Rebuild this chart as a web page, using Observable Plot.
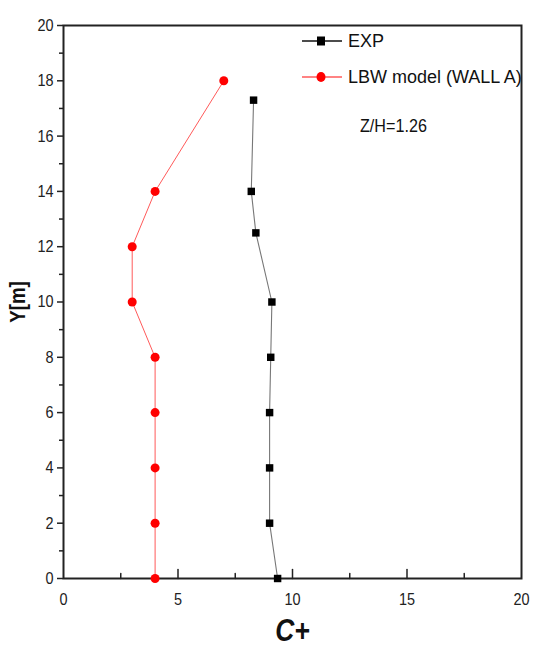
<!DOCTYPE html>
<html>
<head>
<meta charset="utf-8">
<script src="https://cdn.jsdelivr.net/npm/d3@7"></script>
<script src="https://cdn.jsdelivr.net/npm/@observablehq/plot@0.6"></script>
<style>
  html, body { margin: 0; padding: 0; background: #fff; }
  #wrap { position: relative; width: 537px; height: 662px; font-family: "Liberation Sans", Arial, sans-serif; }
  #legend { position: absolute; left: 300px; top: 30px; color: #111; }
  #legend .row { position: absolute; white-space: nowrap; font-size: 18px; }
  #zh { position: absolute; left: 360px; top: 115px; font-size: 19px; color: #111; white-space: nowrap; transform: scaleX(0.85); transform-origin: left center; }
</style>
</head>
<body>
<div id="wrap">
  <div id="chart"></div>
  <div id="legend"></div>
  <div id="zh"></div>
</div>
<script>
// ---- data ----
const expY   = [0, 2, 4, 6, 8, 10, 12.5, 14, 17.3];
const expC   = [9.35, 9.0, 9.0, 9.0, 9.05, 9.1, 8.4, 8.2, 8.3];
const lbwY   = [0, 2, 4, 6, 8, 10, 12, 14, 18];
const lbwC   = [4, 4, 4, 4, 4, 3, 3, 4, 7];
const xTicks = [0, 5, 10, 15, 20];
const xMinor = [2.5, 7.5, 12.5, 17.5];
const yTicks = [0, 2, 4, 6, 8, 10, 12, 14, 16, 18, 20];
const yMinor = [1, 3, 5, 7, 9, 11, 13, 15, 17, 19];
const seriesNames = ["EXP", "LBW model (WALL A)"];
const annotation = "Z/H=1.26";
const xLabel = "C+";
const yLabel = "Y[m]";

const exp = expY.map((y, i) => ({y, c: expC[i]}));
const lbw = lbwY.map((y, i) => ({y, c: lbwC[i]}));

const font = '"Liberation Sans", Arial, sans-serif';
const axisColor = "#222";
const tickShape = {draw(ctx, l) { ctx.moveTo(0, 0); ctx.lineTo(0, -l); }};

const chart = Plot.plot({
  width: 537,
  height: 662,
  marginLeft: 63,
  marginRight: 16,
  marginTop: 25,
  marginBottom: 84,
  style: {fontFamily: font, fontSize: "17px", color: axisColor, background: "#fff"},
  x: {domain: [0, 20]},
  y: {domain: [0, 20]},
  marks: [
    Plot.axisX(xTicks, {tickSize: 0, tickPadding: 14, fontSize: 17, label: null}),
    Plot.vector(xTicks.slice(1, -1), {x: d => d, frameAnchor: "bottom", length: 9, anchor: "start", shape: tickShape, stroke: axisColor, strokeWidth: 1.5}),
    Plot.vector(xMinor, {x: d => d, frameAnchor: "bottom", length: 5, anchor: "start", shape: tickShape, stroke: axisColor, strokeWidth: 1.5}),
    Plot.axisY(yTicks, {tickSize: 6, strokeWidth: 1.5, tickPadding: 4, fontSize: 17, label: null}),
    Plot.axisY(yMinor, {tickSize: 4, strokeWidth: 1.5, text: null, label: null}),
    Plot.frame({stroke: axisColor, strokeWidth: 2}),
    Plot.line(lbw, {x: "c", y: "y", stroke: "#ff5a5a", strokeWidth: 1}),
    Plot.line(exp, {x: "c", y: "y", stroke: "#777", strokeWidth: 1.1}),
    Plot.dot(lbw, {x: "c", y: "y", r: 4.5, fill: "#ff0000", stroke: "none"}),
    Plot.dot(exp, {x: "c", y: "y", symbol: "square", r: 4.2, fill: "#000", stroke: "none"}),
    Plot.text([yLabel], {text: d => d, frameAnchor: "left", textAnchor: "middle", dx: -46, rotate: -90, fontSize: 22, fontWeight: "bold", fill: "#111"}),
    Plot.text([xLabel], {text: d => d, frameAnchor: "bottom", dy: 62, fontSize: 31, fontWeight: "bold", fontStyle: "italic", fill: "#111"})
  ]
});
document.getElementById("chart").appendChild(chart);

// condense text horizontally (reference uses a narrow face)
function condense(sel, k) {
  chart.querySelectorAll(sel).forEach(t => {
    const len = t.getComputedTextLength();
    t.setAttribute("textLength", (len * k).toFixed(2));
    t.setAttribute("lengthAdjust", "spacingAndGlyphs");
  });
}
condense('g[aria-label="x-axis tick label"] text, g[aria-label="y-axis tick label"] text', 0.85);
condense('g[aria-label="text"] text', 0.85);

// ---- legend ----
const legend = document.getElementById("legend");
const markers = [
  `<rect x="17" y="-4.5" width="8" height="9" fill="#000"/>`,
  `<ellipse cx="21" cy="0" rx="4.5" ry="5" fill="#ff0000"/>`
];
const strokes = ["#111", "#ff5a5a"];
seriesNames.forEach((name, i) => {
  const row = document.createElement("div");
  row.className = "row";
  row.style.top = (i * 36) + "px";
  row.innerHTML =
    `<svg width="44" height="20" style="vertical-align:middle" viewBox="0 -10 44 20">` +
    `<line x1="2" y1="0" x2="42" y2="0" stroke="${strokes[i]}" stroke-width="1.3"/>` +
    markers[i] + `</svg><span style="vertical-align:middle;margin-left:4px">${name}</span>`;
  legend.appendChild(row);
});
document.getElementById("zh").textContent = annotation;
</script>
</body>
</html>
